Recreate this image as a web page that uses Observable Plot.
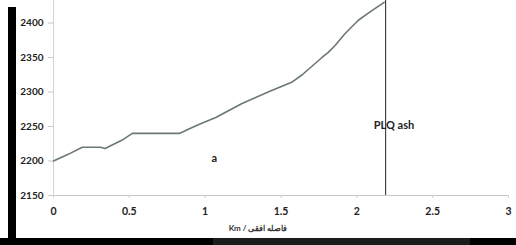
<!DOCTYPE html>
<html>
<head>
<meta charset="utf-8">
<script src="https://cdn.jsdelivr.net/npm/d3@7"></script>
<script src="https://cdn.jsdelivr.net/npm/@observablehq/plot@0.6"></script>
<style>
  html, body { margin: 0; padding: 0; background: #fff; }
  #wrap { position: relative; width: 516px; height: 245px; overflow: hidden; background: #fff; }
  .blk { position: absolute; background: #000; }
</style>
</head>
<body>
<div id="wrap"></div>
<script>
const distanceKm = [0, 0.1, 0.19, 0.31, 0.34, 0.45, 0.52, 0.83, 0.9, 0.97, 1.07, 1.24, 1.415, 1.57, 1.64, 1.77, 1.81, 1.855, 1.92, 2.01, 2.08, 2.18];
const elevation  = [2200, 2210, 2220, 2220, 2218, 2230, 2240, 2240, 2247, 2254, 2263, 2283, 2300, 2314, 2325, 2350, 2357, 2367, 2384, 2404, 2415, 2430];
const yTicks = [2150, 2200, 2250, 2300, 2350, 2400];
const xTicks = [0, 0.5, 1, 1.5, 2, 2.5, 3];
const boundaryX = [2.19];
const notes = [
  {text: "a", x: 1.06, y: 2203.5, anchor: "start"},
  {text: "PLQ ash", x: 2.245, y: 2251, anchor: "start"}
];
const xLabel = "Km / فاصله افقی";

const profile = distanceKm.map((d, i) => ({d, e: elevation[i]}));

const chart = Plot.plot({
  width: 516,
  height: 245,
  marginLeft: 53,
  marginRight: 8,
  marginTop: 0,
  marginBottom: 50,
  style: {fontFamily: "Lato, 'Open Sans', sans-serif", fontSize: "10px", color: "#333", background: "transparent"},
  x: {domain: [0, 3]},
  y: {domain: [2150, 2432.6]},
  marks: [
    Plot.ruleY([2150], {stroke: "#c8c8c8", strokeWidth: 1}),
    Plot.ruleX([0], {stroke: "#d4d4d4", strokeWidth: 1}),
    Plot.axisY({ticks: yTicks, tickFormat: d => String(d), tickSize: 5, tickPadding: 5, stroke: "#c8c8c8", fill: "#222", fontWeight: "bold", fontSize: 10, label: null}),
    Plot.axisX({ticks: xTicks, tickFormat: d => String(d), tickSize: 3, tickPadding: 9, stroke: "#d0d0d0", fill: "#222", fontWeight: "bold", fontSize: 10.5, label: null}),
    Plot.line(profile, {x: "d", y: "e", stroke: "#6b7878", strokeWidth: 1.6}),
    Plot.ruleX(boundaryX, {stroke: "#222", strokeWidth: 1}),
    Plot.text(notes, {x: "x", y: "y", text: "text", textAnchor: "anchor", fill: "#222", fontSize: 11, fontWeight: "bold"}),
    Plot.text([xLabel], {frameAnchor: "bottom", dx: -23, dy: 35, fill: "#333", fontSize: 8, fontWeight: "bold"})
  ]
});

const wrap = document.getElementById("wrap");
wrap.appendChild(chart);
chart.style.position = "absolute";
chart.style.left = "0";
chart.style.top = "0";

function blk(l, t, w, h, c) {
  const d = document.createElement("div");
  d.className = "blk";
  d.style.left = l + "px"; d.style.top = t + "px";
  d.style.width = w + "px"; d.style.height = h + "px";
  if (c) d.style.background = c;
  wrap.appendChild(d);
}
blk(8, 7, 8, 238);
blk(0, 238, 213, 7);
blk(213, 238, 257, 7, "#1c1c1c");
blk(470, 238, 46, 7);
</script>
</body>
</html>
